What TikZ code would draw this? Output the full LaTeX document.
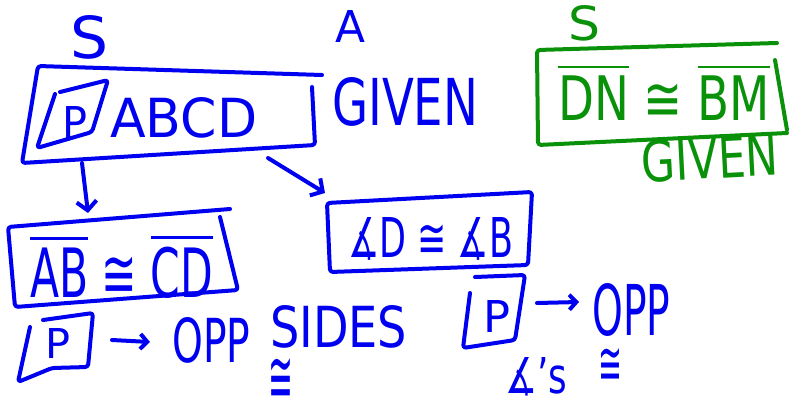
\documentclass[tikz,border=0pt]{standalone}
\usepackage{fontspec}
\setmainfont{DejaVu Sans}
\usepackage{graphicx}
\usetikzlibrary{arrows.meta}
\definecolor{inkblue}{RGB}{0,0,240}
\definecolor{inkgreen}{RGB}{10,145,10}
\newcommand\fitbox[3]{\resizebox{#1pt}{#2pt}{#3}}
\newcommand\ovl[1]{$\overline{\mbox{#1}}$}
\begin{document}
\begin{tikzpicture}[x=1pt,y=-1pt,
  ink/.style={line width=4pt, line cap=round, line join=round, rounded corners=3pt},
  txt/.style={inner sep=0pt, anchor=north west},
  arr/.style={line width=4pt, line cap=round, line join=round, -{Straight Barb[length=9pt,width=20pt,line width=4pt]}},
  arrsmall/.style={line width=4pt, line cap=round, line join=round, -{Straight Barb[length=7pt,width=15pt,line width=4pt]}}]
\useasboundingbox (0,0) rectangle (789,407);

% ---------- blue part ----------
\begin{scope}[color=inkblue, text=inkblue]
\node[txt] (s1) at (70,15) {\fitbox{38}{43}{S}};
\node[txt] (a1) at (335,10) {\fitbox{30}{32}{A}};

% box 1
\draw[ink] (322,75) -- (38,66) -- (22,163) -- (315,145) -- (312,87);
\draw[ink] (60,92) -- (108,80) -- (92,132) -- (37,148) -- (55,94);
\node[txt] (p1) at (62,106) {\fitbox{25}{32}{P}};
\node[txt] (abcd) at (110,97) {\fitbox{147}{40}{ABCD}};
\node[txt] (given1) at (332,77) {\fitbox{146}{48}{GIVEN}};

% arrows from box 1
\coordinate (a1s) at (82,163);
\coordinate (a1e) at (88,213);
\coordinate (a2s) at (268,158);
\coordinate (a2e) at (325,193);
\draw[arr] (a1s) -- (a1e);
\draw[arr] (a2s) -- (a2e);

% box 2
\draw[ink] (230,209) -- (8,227) -- (15,307) -- (238,290) -- (220,217);
\node[txt] (abcd2) at (30,233) {\fitbox{183}{64}{\ovl{AB} ≅ \ovl{CD}}};

% box 3
\draw[ink] (532,192) -- (327,203) -- (330,272) -- (528,265) -- cycle;
\node[txt] (angles) at (348,217) {\fitbox{165}{40}{∡D ≅ ∡B}};

% bottom left
\draw[ink] (30,327) -- (18,382) -- (52,368) -- (88,367) -- (93,313) -- (43,320);
\node[txt] (p2) at (45,328) {\fitbox{25}{30}{P}};
\coordinate (a3s) at (112,340);
\coordinate (a3e) at (150,342);
\draw[arrsmall] (a3s) -- (a3e);
\node[txt] (opp1) at (172,317) {\fitbox{78}{45}{OPP}};
\node[txt] (sides) at (270,305) {\fitbox{137}{42}{SIDES}};
\node[txt] (cong1) at (268,358) {\fitbox{25}{44}{≅}};

% bottom right
\draw[ink] (470,293) -- (463,348) -- (515,340) -- (525,275) -- (475,277);
\node[txt] (p3) at (483,300) {\fitbox{27}{32}{P}};
\coordinate (a4s) at (537,303);
\coordinate (a4e) at (579,302);
\draw[arrsmall] (a4s) -- (a4e);
\node[txt] (opp2) at (592,283) {\fitbox{78}{52}{OPP}};
\node[txt] (angs) at (505,357) {\fitbox{62}{36}{∡'s}};
\node[txt] (cong2) at (598,348) {\fitbox{24}{36}{≅}};
\end{scope}

% ---------- green part ----------
\begin{scope}[color=inkgreen, text=inkgreen]
\node[txt] (s2) at (568,5) {\fitbox{32}{35}{S}};
\draw[ink] (777,43) -- (537,50) -- (538,145) -- (787,133);
\draw[ink] (775,60) -- (787,130);
\node[txt] (dnbm) at (558,63) {\fitbox{212}{57}{\ovl{DN} ≅ \ovl{BM}}};
\node[txt, rotate=3] (given2) at (640,140) {\fitbox{137}{42}{GIVEN}};
\end{scope}
\end{tikzpicture}
\end{document}
